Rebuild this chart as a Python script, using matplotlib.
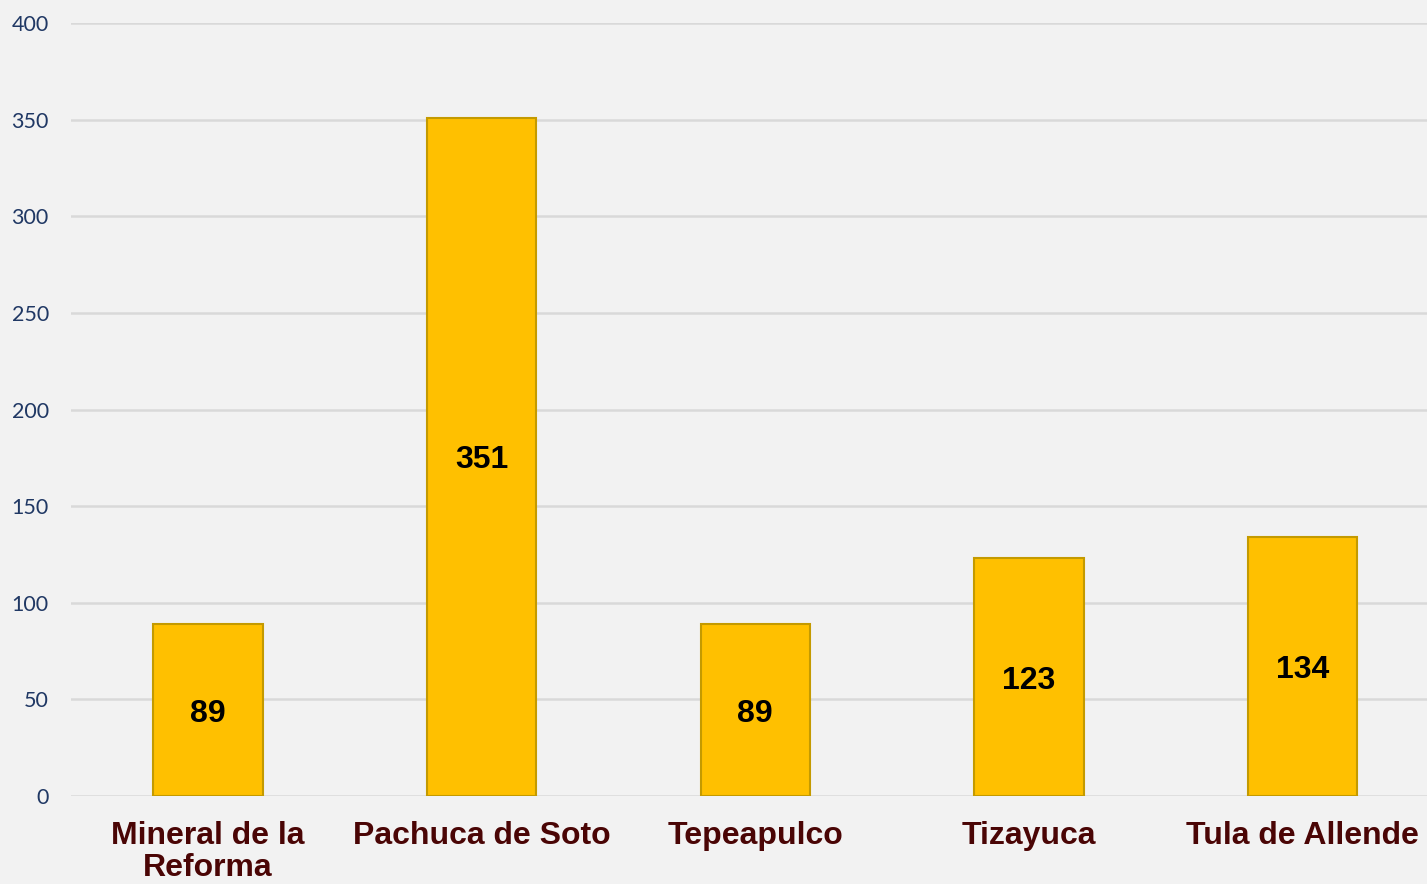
import matplotlib.pyplot as plt
import numpy as np

municipios = ["Mineral de la\nReforma", "Pachuca de Soto", "Tepeapulco", "Tizayuca", "Tula de Allende"]
valores = [89, 351, 89, 123, 134]
yticks = [0, 50, 100, 150, 200, 250, 300, 350, 400]

W, H = 1427, 884
fig = plt.figure(figsize=(W / 100, H / 100), dpi=100)
fig.patch.set_facecolor("#F2F2F2")

# axes runs a bit past the right edge, like the original
left, right = 71, 71 + 5 * 273.7
top, bottom = 23, 796
ax = fig.add_axes([left / W, 1 - bottom / H, (right - left) / W, (bottom - top) / H])
ax.set_facecolor("#F2F2F2")

x = np.arange(len(municipios))
bars = ax.bar(x, valores, width=0.40, color="#FFC000", edgecolor="#C49A00", linewidth=1.5, zorder=3)

for b, v in zip(bars, valores):
    ax.text(b.get_x() + b.get_width() / 2, v / 2, str(v), ha="center", va="center_baseline",
            fontsize=23, fontweight="bold", family="Liberation Sans", color="black", zorder=4)

ax.set_xlim(-0.5, len(municipios) - 0.5)
ax.set_ylim(0, 400)
ax.set_yticks(yticks)
ax.set_yticklabels([str(t) for t in yticks], fontsize=15.5, color="#203864", family="Lato")
ax.set_xticks(x)
ax.set_xticklabels(municipios, fontsize=23, fontweight="bold", family="Liberation Sans",
                   color="#4A0505", linespacing=1.1)
ax.tick_params(axis="y", length=0, pad=16)
ax.tick_params(axis="x", length=0, pad=18)
ax.grid(axis="y", color="#D9D9D9", linewidth=1.8, zorder=0)
for s in ax.spines.values():
    s.set_visible(False)

fig.savefig("out.png", dpi=100, facecolor=fig.get_facecolor())
